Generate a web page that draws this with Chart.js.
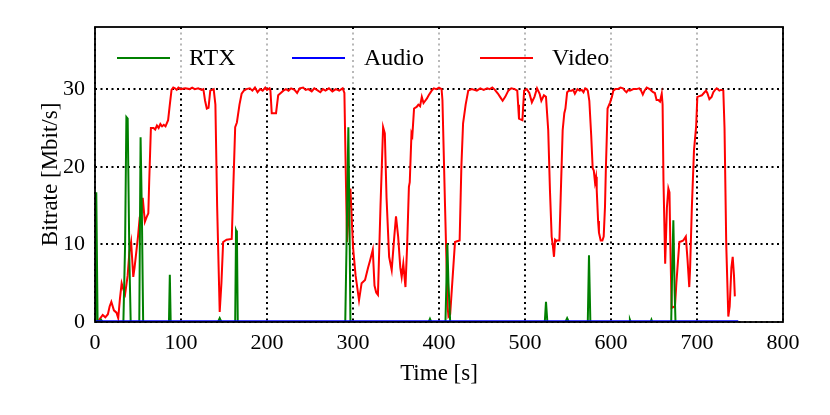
<!DOCTYPE html>
<html>
<head>
<meta charset="utf-8">
<script src="https://cdn.jsdelivr.net/npm/chart.js@4.4.1/dist/chart.umd.min.js"></script>
<style>
  html, body { margin: 0; padding: 0; background: #fff; }
  #wrap { width: 830px; height: 415px; }
</style>
</head>
<body>
<div id="wrap"><canvas id="chart" width="830" height="415"></canvas></div>
<script>
// Series names and colours (legend order)
const seriesNames = ['RTX', 'Audio', 'Video'];
const seriesColors = ['#008000', '#0000ff', '#ff0000'];

// Axis ticks
const xTicks = [0, 100, 200, 300, 400, 500, 600, 700, 800];
const yTicks = [0, 10, 20, 30];

// [time s, bitrate Mbit/s]
const rtxPoints = [
    [0, 0], [0.5, 16.6], [1.5, 16.6], [3, 0], [5, 0], [7, 0.3], [9, 0], [33, 0], [35, 10],
    [36.5, 26.4], [38, 26.2], [40, 8], [41.5, 0], [51.5, 0], [53, 23.8], [54.5, 14], [56, 0],
    [86, 0], [87, 6.1], [88, 0], [143, 0], [145, 0.5], [147, 0], [163, 0], [164, 11.8],
    [165, 11.5], [166, 0], [291, 0], [292.5, 10], [294.6, 25.1], [296, 12], [297, 0],
    [388, 0], [389.5, 0.4], [391, 0], [407.5, 0], [409.7, 10.1], [411, 5], [413, 0],
    [523, 0], [524.4, 2.6], [526, 0], [547, 0], [549, 0.5], [551, 0], [573, 0], [574.4, 8.6],
    [576, 0], [621, 0], [622, 0.3], [623, 0], [646, 0], [647, 0.3], [648, 0], [670, 0],
    [671, 6], [672.5, 13.1], [674, 4], [675, 0], [748, 0]
];

const audioPoints = [
    [0, 0.1], [100, 0.1], [200, 0.1], [300, 0.1], [400, 0.1], [500, 0.1], [600, 0.1],
    [700, 0.1], [748, 0.1]
];

const videoPoints = [
    [0, 0], [2, 0], [5, 0.3], [9, 0.9], [12, 0.6], [15, 1.0], [17, 2.0], [19, 2.6], [22, 1.5],
    [25, 1.2], [27, 0.5], [29, 3.0], [31, 5.0], [33, 4.2], [35, 3.6], [38, 6], [40, 9],
    [42, 10.3], [44.5, 5.8], [46, 7], [48, 9], [50, 11], [52, 13.5], [54, 14], [55.5, 16],
    [58, 12.9], [60, 13.5], [62, 14], [63, 18], [65, 25], [68, 25], [70, 24.8], [72, 25.3],
    [74, 25.0], [76, 25.5], [78, 25.2], [80, 25.4], [82, 25.2], [85, 26], [87, 28],
    [89, 29.9], [91, 30.2], [93, 30.1], [95, 29.9], [97, 30.2], [100, 30.0], [105, 30.1],
    [110, 30.0], [113, 30.2], [116, 30.0], [120, 30.1], [124, 29.9], [126, 30], [128, 28.5],
    [130, 27.5], [132, 27.6], [134, 29.8], [138, 30.0], [140, 28], [142, 15], [145, 1.3],
    [147, 5], [149, 10.3], [153, 10.6], [159, 10.7], [161, 18], [163, 25.1], [165, 25.7],
    [168, 28], [170.5, 29.4], [173, 29.8], [176, 30], [180, 30.1], [183, 29.8], [186, 30.2],
    [189, 29.6], [192, 30.0], [195, 29.8], [198, 30.2], [200, 29.9], [203, 30.1], [204, 29.8],
    [205.5, 26.9], [210.5, 26.9], [213, 29.2], [216, 29.5], [219, 29.8], [222, 30],
    [225, 29.8], [228, 30.1], [232, 29.9], [235, 29.5], [238, 30.1], [242, 30.2], [245, 29.9],
    [248, 30], [252, 29.7], [255, 30.1], [258, 29.9], [262, 29.6], [265, 30], [268, 29.8],
    [272, 30.1], [276, 29.7], [280, 30], [284, 29.8], [288, 30.1], [290, 29.5], [293, 10.3],
    [295, 14], [297, 17.2], [300, 9.7], [303, 6], [307, 2.8], [310, 5], [314, 5.4],
    [317.5, 7], [320, 8], [323, 9.3], [325, 4.7], [327, 3.8], [329, 3.5], [332, 15],
    [335, 25.1], [337, 24.3], [339, 16], [342, 8.4], [345, 6.7], [348, 11], [350, 13.6],
    [352.5, 11], [355, 7], [356.6, 5.8], [358.5, 7.5], [361, 4.5], [363, 10], [365, 17.4],
    [366, 18], [368, 24.3], [369, 24], [371, 27.5], [374, 27.7], [376, 28], [378, 27.8],
    [380, 29], [382, 28.2], [384, 28.5], [386, 28.8], [388, 29.2], [391.5, 29.8], [394, 30.1],
    [397, 30], [400, 30.2], [403, 30], [404, 28.6], [407, 15], [410, 2], [411, 0.7], [413, 1],
    [416, 6], [418.6, 10.3], [421, 10.4], [424, 10.5], [426, 20], [428, 25.6], [431, 28],
    [434, 29.8], [438, 30], [441, 29.9], [444, 29.8], [448, 30.1], [452, 29.9], [456, 30.1],
    [459, 30.0], [462, 30.2], [465, 29.9], [468.7, 29.4], [471, 29], [474, 28.5], [477, 29],
    [480.6, 29.8], [484, 30.1], [488, 30], [491, 29.8], [492, 28], [493, 26.2], [497, 26],
    [498, 28], [499, 29.8], [502, 30], [505, 29.5], [508, 28.3], [511, 29], [514, 30.1],
    [517, 29.4], [519, 28.5], [522, 29.2], [524.4, 29], [525, 28], [527, 24.7], [529, 17],
    [531, 11], [532.5, 9.7], [533.7, 8.4], [535, 10.6], [536, 10.5], [540, 10.5], [542, 18],
    [543.8, 24.7], [545.7, 26.9], [547, 27.5], [549, 29.6], [551, 29.8], [554, 29.8],
    [556, 29.9], [558, 29.4], [561, 30], [563.6, 29.8], [566, 29.9], [568, 29.6], [570, 30.1],
    [571.7, 30], [573, 29.8], [574.8, 28.5], [577, 24], [578.7, 19.8], [580, 19.5],
    [581.4, 18], [582.6, 18.7], [583.4, 17], [585, 13], [586, 11.5], [588, 10.5], [590, 10.5],
    [591.5, 11], [593, 14.8], [594, 19.6], [595, 23.4], [596, 27.5], [599, 28.3], [601, 29],
    [602.7, 29.8], [605, 30], [608, 30], [611, 30.2], [614, 30.1], [616, 29.8], [618, 29.6],
    [620, 29.9], [622, 29.8], [626, 30], [629.5, 30], [633, 30.1], [635, 29.8], [637, 29.3],
    [639, 29.8], [641.5, 30.2], [645, 30], [647, 29.8], [649, 29.6], [651, 29.5], [653, 28.6],
    [655, 28.6], [657, 28.4], [659, 29.4], [660, 28], [661, 18.3], [663, 7.5], [665, 14.7],
    [666.7, 17.2], [668, 16.7], [669, 10], [670.5, 1.8], [672, 1.9], [674.4, 2], [676, 5],
    [679.5, 10.3], [682, 10.4], [684, 10.5], [687, 11], [689, 8], [691, 4.5], [692, 7],
    [694, 14.7], [696.5, 22.1], [699, 25.2], [700.4, 29], [703, 29.1], [705.6, 29.2],
    [708, 29.5], [710.5, 29.8], [712, 29.5], [714.4, 28.7], [717, 29], [719, 29.6], [721, 29.9],
    [723, 30.1], [726, 29.8], [728, 29.9], [730.6, 29.8], [732, 25], [734, 10], [736.4, 0.7],
    [738, 2], [740, 7], [741.5, 8.4], [743, 6], [744, 3.3]
];

const FONT = "'Liberation Serif', 'DejaVu Serif', serif";

function toXY(points) {
    return points.map(p => ({ x: p[0], y: p[1] }));
}

// Faded box behind the legend, then frame and legend on top of the data
const framePlugin = {
    id: 'frameAndLegend',
    beforeDatasetsDraw(chart) {
        const { ctx, chartArea: a } = chart;
        ctx.save();
        ctx.fillStyle = 'rgba(255,255,255,0.72)';
        ctx.fillRect(a.left + 6, a.top + 3, a.right - a.left - 12, 54);
        ctx.restore();
    },
    afterDatasetsDraw(chart) {
        const { ctx, chartArea: a } = chart;
        ctx.save();
        ctx.strokeStyle = '#000';
        ctx.lineWidth = 1.8;
        ctx.strokeRect(a.left, a.top, a.right - a.left, a.bottom - a.top);

        const lineStarts = [22, 197, 385];
        const y = a.top + 31;
        ctx.font = '24px ' + FONT;
        ctx.textBaseline = 'middle';
        seriesNames.forEach((name, i) => {
            const x0 = a.left + lineStarts[i];
            ctx.strokeStyle = seriesColors[i];
            ctx.lineWidth = 2;
            ctx.beginPath();
            ctx.moveTo(x0, y);
            ctx.lineTo(x0 + 53, y);
            ctx.stroke();
            ctx.fillStyle = '#000';
            ctx.fillText(name, x0 + 72, y + 1);
        });
        ctx.restore();
    }
};

const ctx = document.getElementById('chart').getContext('2d');
new Chart(ctx, {
    type: 'line',
    data: {
        datasets: [
            { label: seriesNames[1], data: toXY(audioPoints), borderColor: seriesColors[1] },
            { label: seriesNames[0], data: toXY(rtxPoints), borderColor: seriesColors[0] },
            { label: seriesNames[2], data: toXY(videoPoints), borderColor: seriesColors[2] }
        ]
    },
    options: {
        responsive: false,
        animation: false,
        events: [],
        layout: { padding: { top: 27, right: 47, left: 0, bottom: 0 } },
        elements: {
            line: { borderWidth: 2, tension: 0, fill: false },
            point: { radius: 0 }
        },
        plugins: {
            legend: { display: false },
            tooltip: { enabled: false }
        },
        scales: {
            x: {
                type: 'linear',
                min: 0,
                max: 800,
                afterBuildTicks: scale => { scale.ticks = xTicks.map(v => ({ value: v })); },
                afterFit: scale => { scale.height = 93; },
                ticks: { color: '#000', padding: 8, font: { family: FONT, size: 22 } },
                grid: { color: '#000', lineWidth: 2, drawTicks: false },
                border: { display: false, dash: [2, 3.5] },
                title: {
                    display: true, text: 'Time [s]', color: '#000',
                    font: { family: FONT, size: 23 }, padding: { top: 0, bottom: 27 }
                }
            },
            y: {
                min: 0,
                max: 38,
                afterBuildTicks: scale => { scale.ticks = yTicks.map(v => ({ value: v })); },
                afterFit: scale => { scale.width = 95; },
                ticks: { color: '#000', padding: 10, font: { family: FONT, size: 22 } },
                grid: { color: '#000', lineWidth: 2, drawTicks: false },
                border: { display: false, dash: [2, 3.5] },
                title: {
                    display: true, text: 'Bitrate [Mbit/s]', color: '#000',
                    font: { family: FONT, size: 23 }, padding: { top: 37, bottom: 0 }
                }
            }
        }
    },
    plugins: [framePlugin]
});
</script>
</body>
</html>
